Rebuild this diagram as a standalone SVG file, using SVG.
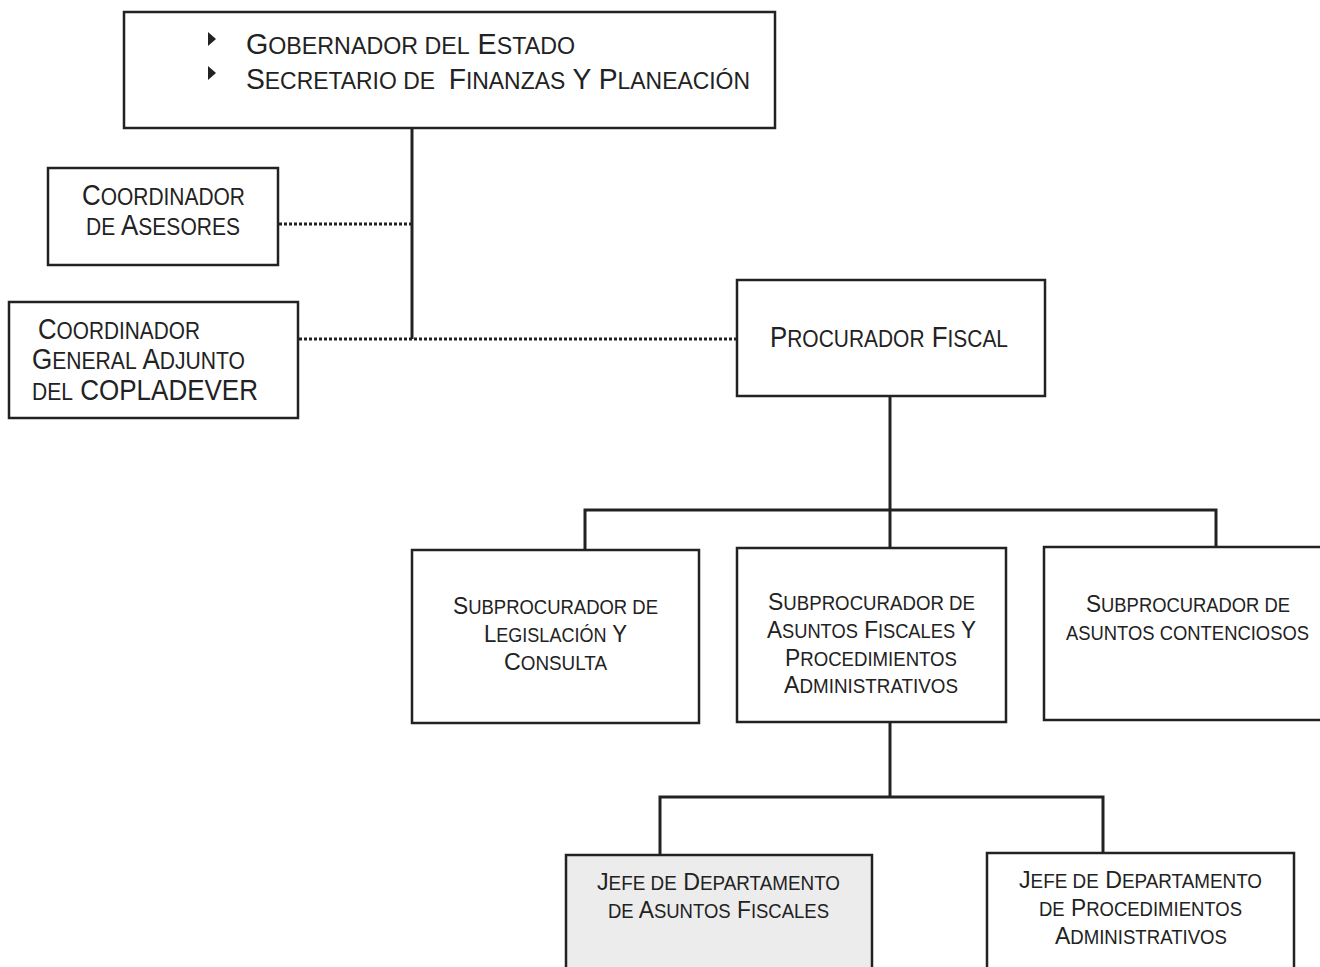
<svg xmlns="http://www.w3.org/2000/svg" width="1320" height="967" viewBox="0 0 1320 967">
<style>
.b{fill:#fff;stroke:#222;stroke-width:2.5}
.g{fill:#ececec;stroke:#222;stroke-width:2.5}
.c{stroke:#222;stroke-width:3;fill:none}
.d{stroke:#222;stroke-width:3.2;stroke-dasharray:3 2;fill:none}
text{font-family:"Liberation Sans",Arial,sans-serif;fill:#222}
.L{font-size:29px}
.L .s{font-size:23.5px}
.M{font-size:24px}
.M .s{font-size:19.5px}
</style>
<rect width="1320" height="967" fill="#fff"/>
<g id="connectors">
<line class="c" x1="412" y1="128" x2="412" y2="339"/>
<line class="d" x1="279" y1="224" x2="411" y2="224"/>
<line class="d" x1="299" y1="339" x2="736" y2="339"/>
<polyline class="c" points="890,396 890,510"/>
<polyline class="c" points="585,550 585,510 1216,510 1216,547"/>
<line class="c" x1="890" y1="510" x2="890" y2="548"/>
<line class="c" x1="890" y1="722" x2="890" y2="797"/>
<polyline class="c" points="660,855 660,797 1103,797 1103,853"/>
</g>
<g id="gobernador">
<rect class="b" x="124" y="12" width="651" height="116"/>
<polygon points="208,32 216,39 208,46" fill="#222"/>
<polygon points="208,66 216,73 208,80" fill="#222"/>
<text class="L" x="246" y="54" textLength="329" lengthAdjust="spacingAndGlyphs">G<tspan class="s">OBERNADOR DEL</tspan> E<tspan class="s">STADO</tspan></text>
<text class="L" x="246" y="89" textLength="504" lengthAdjust="spacingAndGlyphs">S<tspan class="s">ECRETARIO DE</tspan> <tspan dx="6">F</tspan><tspan class="s">INANZAS</tspan> Y P<tspan class="s">LANEACIÓN</tspan></text>
</g>
<g id="coord-asesores">
<rect class="b" x="48" y="168" width="230" height="97"/>
<text class="L" x="82" y="205" textLength="163" lengthAdjust="spacingAndGlyphs">C<tspan class="s">OORDINADOR</tspan></text>
<text class="L" x="86" y="235" textLength="154" lengthAdjust="spacingAndGlyphs"><tspan class="s">DE</tspan> A<tspan class="s">SESORES</tspan></text>
</g>
<g id="coord-copladever">
<rect class="b" x="9" y="302" width="289" height="116"/>
<text class="L" x="38" y="339" textLength="162" lengthAdjust="spacingAndGlyphs">C<tspan class="s">OORDINADOR</tspan></text>
<text class="L" x="32" y="369" textLength="213" lengthAdjust="spacingAndGlyphs">G<tspan class="s">ENERAL</tspan> A<tspan class="s">DJUNTO</tspan></text>
<text class="L" x="32" y="400" textLength="226" lengthAdjust="spacingAndGlyphs"><tspan class="s">DEL</tspan> COPLADEVER</text>
</g>
<g id="procurador">
<rect class="b" x="737" y="280" width="308" height="116"/>
<text class="L" x="770" y="347" textLength="238" lengthAdjust="spacingAndGlyphs">P<tspan class="s">ROCURADOR</tspan> F<tspan class="s">ISCAL</tspan></text>
</g>
<g id="sub-legislacion">
<rect class="b" x="412" y="550" width="287" height="173"/>
<text class="M" x="453" y="614" textLength="205" lengthAdjust="spacingAndGlyphs">S<tspan class="s">UBPROCURADOR DE</tspan></text>
<text class="M" x="484" y="642" textLength="143" lengthAdjust="spacingAndGlyphs">L<tspan class="s">EGISLACIÓN</tspan> Y</text>
<text class="M" x="504" y="670" textLength="103" lengthAdjust="spacingAndGlyphs">C<tspan class="s">ONSULTA</tspan></text>
</g>
<g id="sub-fiscales">
<rect class="b" x="737" y="548" width="269" height="174"/>
<text class="M" x="768" y="610" textLength="207" lengthAdjust="spacingAndGlyphs">S<tspan class="s">UBPROCURADOR DE</tspan></text>
<text class="M" x="767" y="638" textLength="209" lengthAdjust="spacingAndGlyphs">A<tspan class="s">SUNTOS</tspan> F<tspan class="s">ISCALES</tspan> Y</text>
<text class="M" x="785" y="666" textLength="172" lengthAdjust="spacingAndGlyphs">P<tspan class="s">ROCEDIMIENTOS</tspan></text>
<text class="M" x="784" y="693" textLength="174" lengthAdjust="spacingAndGlyphs">A<tspan class="s">DMINISTRATIVOS</tspan></text>
</g>
<g id="sub-contenciosos">
<rect class="b" x="1044" y="547" width="300" height="173"/>
<text class="M" x="1086" y="612" textLength="204" lengthAdjust="spacingAndGlyphs">S<tspan class="s">UBPROCURADOR DE</tspan></text>
<text class="M" x="1066" y="640" textLength="243" lengthAdjust="spacingAndGlyphs"><tspan class="s">ASUNTOS CONTENCIOSOS</tspan></text>
</g>
<g id="jefe-fiscales">
<rect class="g" x="566" y="855" width="306" height="130"/>
<text class="M" x="597" y="890" textLength="243" lengthAdjust="spacingAndGlyphs">J<tspan class="s">EFE DE</tspan> D<tspan class="s">EPARTAMENTO</tspan></text>
<text class="M" x="608" y="918" textLength="221" lengthAdjust="spacingAndGlyphs"><tspan class="s">DE</tspan> A<tspan class="s">SUNTOS</tspan> F<tspan class="s">ISCALES</tspan></text>
</g>
<g id="jefe-procedimientos">
<rect class="b" x="987" y="853" width="307" height="132"/>
<text class="M" x="1019" y="888" textLength="243" lengthAdjust="spacingAndGlyphs">J<tspan class="s">EFE DE</tspan> D<tspan class="s">EPARTAMENTO</tspan></text>
<text class="M" x="1039" y="916" textLength="203" lengthAdjust="spacingAndGlyphs"><tspan class="s">DE</tspan> P<tspan class="s">ROCEDIMIENTOS</tspan></text>
<text class="M" x="1055" y="944" textLength="172" lengthAdjust="spacingAndGlyphs">A<tspan class="s">DMINISTRATIVOS</tspan></text>
</g>
</svg>
